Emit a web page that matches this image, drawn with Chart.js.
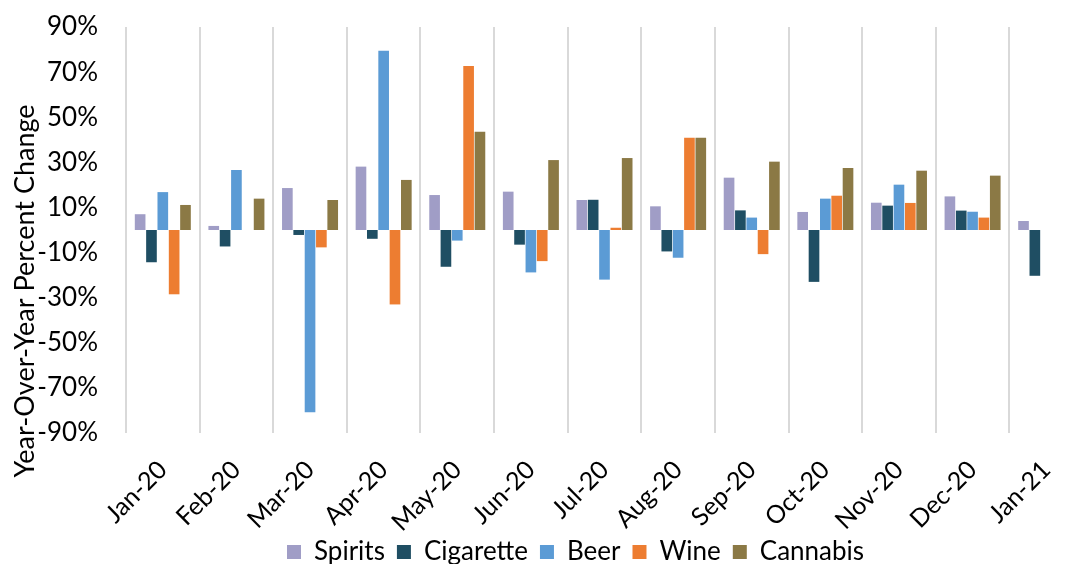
<!DOCTYPE html>
<html>
<head>
<meta charset="utf-8">
<script src="https://cdn.jsdelivr.net/npm/chart.js@4.4.0/dist/chart.umd.min.js"></script>
<style>
  html, body { margin: 0; padding: 0; background: #fff; overflow: hidden; }
  #wrap { width: 1090px; height: 564px; position: relative; }
</style>
</head>
<body>
<div id="wrap"><canvas id="c"></canvas></div>
<script>
const categories = ['Jan-20','Feb-20','Mar-20','Apr-20','May-20','Jun-20','Jul-20','Aug-20','Sep-20','Oct-20','Nov-20','Dec-20','Jan-21'];
const spirits   = [7.0, 1.8, 18.6, 28.1, 15.5, 17.0, 13.3, 10.5, 23.2, 8.0, 12.1, 14.9, 4.0];
const cigarette = [-14.3, -7.3, -2.2, -3.9, -16.3, -6.5, 13.4, -9.5, 8.7, -23.0, 10.8, 8.6, -20.3];
const beer      = [16.8, 26.6, -80.8, 79.5, -4.7, -18.8, -22.0, -12.3, 5.5, 13.9, 20.1, 8.1, null];
const wine      = [-28.5, null, -7.7, -33.0, 72.7, -13.8, 1.0, 40.9, -10.7, 15.2, 12.0, 5.5, null];
const cannabis  = [11.1, 13.9, 13.3, 22.2, 43.6, 31.0, 31.9, 40.9, 30.3, 27.5, 26.3, 24.1, null];
const seriesNames = ['Spirits','Cigarette','Beer','Wine','Cannabis'];
const seriesColors = ['#A09DC6','#1F4E63','#5B9BD5','#ED7D31','#8B7945'];
const yTicks = [-90,-70,-50,-30,-10,10,30,50,70,90];
const yTitle = 'Year-Over-Year Percent Change';

const FONT = 'Lato, "Open Sans", sans-serif';
const seriesData = [spirits, cigarette, beer, wine, cannabis];
const PLOT_BOTTOM = 433;
const EXTRA = 30;

const customLayout = {
  id: 'customLayout',
  afterLayout(chart) {
    const lg = chart.legend;
    if (lg) {
      const w = lg.right - lg.left, h = lg.bottom - lg.top;
      lg.left = 275; lg.right = lg.left + w;
      lg.top = 551 - h / 2; lg.bottom = lg.top + h;
    }
  },
  afterDraw(chart) {
    const ctx = chart.ctx;
    ctx.save();
    ctx.translate(25, 291);
    ctx.rotate(-Math.PI / 2);
    ctx.fillStyle = '#000';
    ctx.font = '27px ' + FONT;
    ctx.textAlign = 'center';
    ctx.textBaseline = 'middle';
    ctx.fillText(yTitle, 0, 0);
    ctx.restore();
  }
};

new Chart(document.getElementById('c'), {
  type: 'bar',
  data: {
    labels: categories,
    datasets: seriesNames.map((n, i) => ({
      label: n,
      data: seriesData[i],
      backgroundColor: seriesColors[i],
      borderWidth: 0,
      barPercentage: 0.94,
      categoryPercentage: 0.77
    }))
  },
  options: {
    responsive: true,
    maintainAspectRatio: false,
    animation: false,
    layout: { padding: { top: 27, right: 7, left: 0, bottom: -EXTRA } },
    plugins: {
      tooltip: { enabled: false },
      legend: {
        position: 'bottom',
        align: 'start',
        labels: {
          boxWidth: 14, boxHeight: 14,
          padding: 12,
          color: '#000',
          font: { family: FONT, size: 26 }
        }
      }
    },
    scales: {
      x: {
        grid: { display: true, offset: true, color: '#d9d9d9', lineWidth: 2, drawTicks: false },
        border: { display: false },
        ticks: {
          color: '#000', font: { family: FONT, size: 25 },
          minRotation: 45, maxRotation: 45, padding: 22, autoSkip: false
        },
        afterFit(scale) {
          const lgH = scale.chart.legend ? scale.chart.legend.height : 0;
          scale.height = scale.chart.height + EXTRA - PLOT_BOTTOM - lgH;
        }
      },
      y: {
        min: -90, max: 90,
        afterBuildTicks(scale) { scale.ticks = yTicks.map(v => ({ value: v })); },
        grid: {
          drawTicks: false,
          lineWidth: 2,
          color: ctx => (ctx.tick && ctx.tick.value === 0) ? '#d9d9d9' : 'rgba(0,0,0,0)'
        },
        border: { display: false },
        ticks: {
          color: '#000', font: { family: FONT, size: 26 }, padding: 28,
          callback: v => v + '%'
        },
        afterFit(scale) { scale.width = 126; scale.paddingTop = 0; scale.paddingBottom = 0; }
      }
    }
  },
  plugins: [customLayout]
});
</script>
</body>
</html>
